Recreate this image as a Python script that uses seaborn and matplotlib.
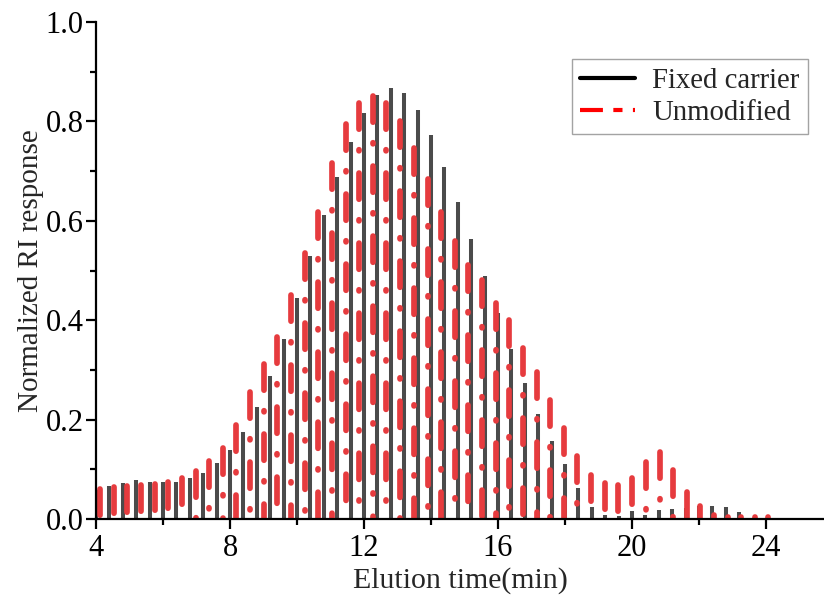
import numpy as np
import pandas as pd
import matplotlib
matplotlib.use("Agg")
import matplotlib.pyplot as plt
from matplotlib.lines import Line2D
import seaborn as sns

# ---- data ----
fixed_t = [4.0, 4.4, 4.8, 5.2, 5.6, 6.0, 6.4, 6.8, 7.2, 7.6, 8.0, 8.4, 8.8, 9.2, 9.6,
           10.0, 10.4, 10.8, 11.2, 11.6, 12.0, 12.4, 12.8, 13.2, 13.6, 14.0, 14.4, 14.8,
           15.2, 15.6, 16.0, 16.4, 16.8, 17.2, 17.6, 18.0, 18.4, 18.8, 19.2, 19.6, 20.0,
           20.4, 20.8, 21.2, 21.6, 22.0, 22.4, 22.8, 23.2]
fixed_v = [0.058, 0.066, 0.072, 0.078, 0.074, 0.074, 0.074, 0.082, 0.092, 0.112,
           0.139, 0.176, 0.226, 0.288, 0.362, 0.444, 0.529, 0.612, 0.689, 0.759,
           0.816, 0.853, 0.867, 0.857, 0.823, 0.773, 0.708, 0.637, 0.563, 0.488,
           0.415, 0.343, 0.273, 0.211, 0.156, 0.111, 0.062, 0.025, 0.008, 0.006,
           0.016, 0.008, 0.018, 0.021, 0.022, 0.026, 0.027, 0.024, 0.015]

unmod_t = [4.12, 4.53, 4.93, 5.34, 5.75, 6.16, 6.56, 6.97, 7.38, 7.78, 8.19, 8.60,
           9.01, 9.41, 9.82, 10.23, 10.64, 11.04, 11.45, 11.86, 12.26, 12.67, 13.08,
           13.49, 13.90, 14.30, 14.71, 15.11, 15.52, 15.93, 16.34, 16.74, 17.15,
           17.56, 17.96, 18.37, 18.78, 19.19, 19.59, 20.00, 20.41, 20.82, 21.22,
           21.63, 22.04, 22.44, 22.85, 23.26, 23.67, 24.07]
unmod_v = [0.060, 0.065, 0.067, 0.068, 0.070, 0.075, 0.083, 0.097, 0.117, 0.142,
           0.189, 0.256, 0.312, 0.366, 0.451, 0.535, 0.617, 0.716, 0.794, 0.838,
           0.851, 0.838, 0.801, 0.747, 0.684, 0.618, 0.559, 0.511, 0.480, 0.435,
           0.400, 0.345, 0.295, 0.239, 0.184, 0.127, 0.089, 0.072, 0.068, 0.083,
           0.115, 0.135, 0.099, 0.054, 0.026, 0.008, 0.005, 0.005, 0.004, 0.004]

series_names = ["Fixed carrier", "Unmodified"]
x_ticks = [4, 8, 12, 16, 20, 24]
y_ticks = [0.0, 0.2, 0.4, 0.6, 0.8, 1.0]


def stems(ts, vs):
    rows = []
    for i, (t, v) in enumerate(zip(ts, vs)):
        rows.append({"t": t, "y": v, "stem": i})
        rows.append({"t": t, "y": 0.0, "stem": i})
    return pd.DataFrame(rows)


df_fixed = stems(fixed_t, fixed_v)
df_unmod = stems(unmod_t, unmod_v)

sns.set_style("ticks")
plt.rcParams["font.family"] = ["Liberation Serif", "DejaVu Serif"]

fig = plt.figure(figsize=(8.24, 6.03), dpi=100)
ax = fig.add_axes([96 / 824, 84 / 603, 1 - 96 / 824, 497 / 603])

sns.lineplot(data=df_fixed, x="t", y="y", units="stem", estimator=None, sort=False,
             color="#4b4b4b", linewidth=2.9, solid_capstyle="butt", ax=ax, legend=False)
sns.lineplot(data=df_unmod, x="t", y="y", units="stem", estimator=None, sort=False,
             color="#e63b3e", linewidth=4.1, linestyle=(0, (4.6, 3.6, 0.2, 3.9)),
             dash_capstyle="round", ax=ax, legend=False)

ax.set_xlim(4, 25.73)
ax.set_ylim(0, 1.0)
ax.set_xticks(x_ticks)
ax.set_xticks([6, 10, 14, 18, 22], minor=True)
ax.set_yticks(y_ticks)
ax.set_yticks([0.1, 0.3, 0.5, 0.7, 0.9], minor=True)
ax.set_yticklabels([f"{v:.1f}" for v in y_ticks])
ax.tick_params(axis="both", which="major", direction="out", length=7, width=1.6,
               labelsize=22, colors="black")
ax.tick_params(axis="y", which="major", pad=2)
ax.tick_params(axis="x", which="major", pad=4)
ax.tick_params(axis="both", which="minor", direction="out", length=4, width=1.6,
               colors="black")
for side in ["top", "right"]:
    ax.spines[side].set_visible(False)
for side in ["left", "bottom"]:
    ax.spines[side].set_linewidth(1.6)
    ax.spines[side].set_color("black")

ax.set_xlabel("Elution time(min)", fontsize=21.5, labelpad=3)
ax.set_ylabel("Normalized RI response", fontsize=21, labelpad=1)

handles = [
    Line2D([0], [0], color="black", linewidth=3.0),
    Line2D([0], [0], color="#ff0000", linewidth=3.0, linestyle=(0, (5.5, 2.5, 2.2, 2.5))),
]
leg = ax.legend(handles, series_names, loc="upper right",
                bbox_to_anchor=(808 / 824, (603 - 59) / 603),
                bbox_transform=fig.transFigure, fontsize=20.7, frameon=True,
                fancybox=False, edgecolor="#8c8c8c", handlelength=1.9,
                handletextpad=0.6, borderpad=0.3, labelspacing=0.2,
                borderaxespad=0)
leg.get_frame().set_linewidth(1.0)

fig.savefig("out.png", dpi=100)
